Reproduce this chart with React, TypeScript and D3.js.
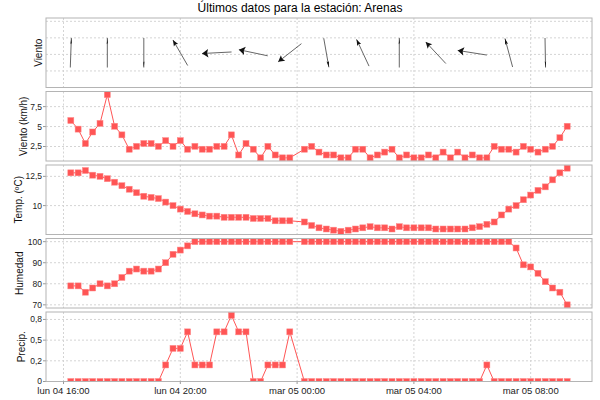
import * as d3 from "d3";

// readings every 15 min; the 00:00 reading is missing in the source
const day4Times = [
  "16:15", "16:30", "16:45", "17:00", "17:15", "17:30", "17:45", "18:00",
  "18:15", "18:30", "18:45", "19:00", "19:15", "19:30", "19:45", "20:00",
  "20:15", "20:30", "20:45", "21:00", "21:15", "21:30", "21:45", "22:00",
  "22:15", "22:30", "22:45", "23:00", "23:15", "23:30", "23:45",
];
const day5Times = [
  "00:15", "00:30", "00:45", "01:00", "01:15", "01:30", "01:45", "02:00",
  "02:15", "02:30", "02:45", "03:00", "03:15", "03:30", "03:45", "04:00",
  "04:15", "04:30", "04:45", "05:00", "05:15", "05:30", "05:45", "06:00",
  "06:15", "06:30", "06:45", "07:00", "07:15", "07:30", "07:45", "08:00",
  "08:15", "08:30", "08:45", "09:00", "09:15",
];

const windSpeed = [
  5.76, 4.68, 2.88, 4.32, 5.4, 9.0, 5.04, 3.96, 2.16, 2.52,
  2.88, 2.88, 2.52, 3.24, 2.52, 3.24, 2.16, 2.52, 2.16, 2.16,
  2.52, 2.52, 3.96, 1.44, 2.88, 2.16, 1.08, 2.52, 1.44, 1.08, 1.08,
  2.16, 2.52, 1.8, 1.44, 1.44, 1.08, 1.08, 2.16, 2.16, 1.08,
  1.44, 1.8, 2.16, 1.08, 1.44, 1.08, 1.08, 1.44, 1.08, 1.8,
  1.08, 1.8, 1.08, 1.44, 1.08, 1.08, 2.52, 2.16, 2.16, 1.8,
  2.52, 2.16, 1.8, 2.16, 2.52, 3.6, 5.04,
];
const temperature = [
  12.8, 12.8, 13.0, 12.6, 12.5, 12.3, 12.0, 11.7, 11.4, 11.1,
  10.8, 10.7, 10.6, 10.3, 10.0, 9.7, 9.5, 9.3, 9.2, 9.1,
  9.1, 9.0, 9.0, 9.0, 9.0, 8.9, 8.9, 8.9, 8.7, 8.7, 8.7,
  8.6, 8.3, 8.1, 8.0, 7.9, 7.8, 7.9, 8.0, 8.1, 8.2,
  8.1, 8.1, 8.0, 8.2, 8.1, 8.1, 8.1, 8.1, 8.0, 8.0,
  8.0, 8.0, 8.0, 8.1, 8.2, 8.4, 8.6, 9.2, 9.7, 10.0,
  10.5, 10.9, 11.3, 11.6, 12.2, 12.8, 13.2,
];
const humidity = [
  79, 79, 76, 78, 80, 79, 80, 83, 86, 87,
  86, 86, 87, 90, 94, 96, 98, 100, 100, 100,
  100, 100, 100, 100, 100, 100, 100, 100, 100, 100, 100,
  100, 100, 100, 100, 100, 100, 100, 100, 100, 100,
  100, 100, 100, 100, 100, 100, 100, 100, 100, 100,
  100, 100, 100, 100, 100, 100, 100, 100, 100, 97,
  89, 88, 85, 81, 78, 76, 70,
];
const precip = [
  0, 0, 0, 0, 0, 0, 0, 0, 0, 0,
  0, 0, 0, 0.2, 0.4, 0.4, 0.6, 0.2, 0.2, 0.2,
  0.6, 0.6, 0.8, 0.6, 0.6, 0, 0, 0.2, 0.2, 0.2, 0.6,
  0, 0, 0, 0, 0, 0, 0, 0, 0, 0,
  0, 0, 0, 0, 0, 0, 0, 0, 0, 0,
  0, 0, 0, 0, 0, 0.2, 0, 0, 0, 0,
  0, 0, 0, 0, 0, 0, 0,
];

// wind direction arrows (degrees, clockwise from north, direction the arrow points)
const arrowTimes = [
  "04 16:15", "04 17:30", "04 18:45", "04 20:00", "04 21:15", "04 22:30", "04 23:45",
  "05 01:00", "05 02:15", "05 03:30", "05 04:45", "05 06:00", "05 07:15", "05 08:30",
];
const arrowDirs = [2, 0, 180, 330, 267, 282, 232, 170, 335, 0, 317, 279, 345, 179];

const windTicks = [2.5, 5, 7.5];
const windTickLabels = ["2,5", "5", "7,5"];
const tempTicks = [10, 12.5];
const tempTickLabels = ["10", "12,5"];
const humTicks = [70, 80, 90, 100];
const humTickLabels = ["70", "80", "90", "100"];
const precipTicks = [0, 0.25, 0.5, 0.75];
const precipTickLabels = ["0", "0,2", "0,5", "0,8"];

const title = "Últimos datos para la estación: Arenas";

const esLocale = d3.timeFormatLocale({
  dateTime: "%A, %e de %B de %Y, %X",
  date: "%d/%m/%Y",
  time: "%H:%M:%S",
  periods: ["AM", "PM"],
  days: ["domingo", "lunes", "martes", "miércoles", "jueves", "viernes", "sábado"],
  shortDays: ["dom", "lun", "mar", "mié", "jue", "vie", "sáb"],
  months: ["enero", "febrero", "marzo", "abril", "mayo", "junio", "julio", "agosto", "septiembre", "octubre", "noviembre", "diciembre"],
  shortMonths: ["ene", "feb", "mar", "abr", "may", "jun", "jul", "ago", "sep", "oct", "nov", "dic"],
});

const parse = d3.timeParse("%Y-%m-%d %H:%M");
const FONT = "Liberation Sans, Arial, sans-serif";
const RED = "#ff5555";

export default function App() {
  const width = 600;
  const height = 400;
  const plotLeft = 46;
  const plotRight = 592;
  const firstTop = 18;
  const step = 73.5;
  const panelH = 69.5;

  const times = [
    ...day4Times.map((t) => parse(`2013-03-04 ${t}`) as Date),
    ...day5Times.map((t) => parse(`2013-03-05 ${t}`) as Date),
  ];
  const [t0, t1] = d3.extent(times) as [Date, Date];
  const pad = (t1.getTime() - t0.getTime()) * 0.05;

  const xScale = d3
    .scaleTime()
    .domain([new Date(t0.getTime() - pad), new Date(t1.getTime() + pad)])
    .range([plotLeft, plotRight]);
  const xTicks = xScale.ticks(d3.timeHour.every(4) as d3.TimeInterval);
  const fmt = esLocale.format("%a %d %H:%M");

  const autoDomain = (vals: number[], zeroBase = false): [number, number] => {
    const [lo, hi] = d3.extent(vals) as [number, number];
    const m = (hi - lo) * 0.05;
    return zeroBase ? [0, hi + hi * 0.05] : [lo - m, hi + m];
  };

  const panels = [
    { label: "Viento (km/h)", values: windSpeed, ticks: windTicks, tickLabels: windTickLabels, domain: autoDomain(windSpeed), labelX: 23 },
    { label: "Temp. (ºC)", values: temperature, ticks: tempTicks, tickLabels: tempTickLabels, domain: autoDomain(temperature), labelX: 18.5 },
    { label: "Humedad", values: humidity, ticks: humTicks, tickLabels: humTickLabels, domain: autoDomain(humidity), labelX: 19.5 },
    { label: "Precip.", values: precip, ticks: precipTicks, tickLabels: precipTickLabels, domain: autoDomain(precip, true), labelX: 21 },
  ];

  // top panel: wind direction vectors
  const arrowTop = firstTop;
  const arrowScale = d3.scaleLinear().domain([0, 4.2]).range([arrowTop + panelH, arrowTop]);
  const arrowGrid = [1, 2, 3, 4];
  const half = 14.75;

  const arrows = arrowTimes.map((s, i) => {
    const cx = xScale(parse(`2013-03-${s}`) as Date);
    const cy = arrowScale(2.1);
    const a = (arrowDirs[i] * Math.PI) / 180;
    const ux = Math.sin(a);
    const uy = -Math.cos(a);
    const tipX = cx + ux * half;
    const tipY = cy + uy * half;
    const tailX = cx - ux * half;
    const tailY = cy - uy * half;
    // heads get flatter the more vertical the vector is
    const hw = 0.6 + 3.7 * Math.abs(Math.sin(a));
    const bx = tipX - ux * 6.2;
    const by = tipY - uy * 6.2;
    const nx = tipX - ux * 5;
    const ny = tipY - uy * 5;
    const px = Math.cos(a);
    const py = Math.sin(a);
    const head = [
      [tipX, tipY],
      [bx + px * hw, by + py * hw],
      [nx, ny],
      [bx - px * hw, by - py * hw],
    ]
      .map((p) => p.join(","))
      .join(" ");
    return (
      <g key={i}>
        <line x1={tailX} y1={tailY} x2={tipX} y2={tipY} stroke="#666" strokeWidth={1} />
        <polygon points={head} fill="#111" />
      </g>
    );
  });

  const vGrid = (top: number, key: string) =>
    xTicks.map((t, i) => (
      <line
        key={key + i}
        x1={xScale(t)}
        x2={xScale(t)}
        y1={top}
        y2={top + panelH}
        stroke="#d4d4d4"
        strokeDasharray="2,2"
      />
    ));

  const lastBottom = firstTop + step * 4 + panelH;

  return (
    <div style={{ position: "absolute", left: 0, top: 0 }}>
      <svg width={width} height={height} style={{ display: "block", background: "#fff" }} fontFamily={FONT}>
        <text x={width / 2} y={12} textAnchor="middle" fontSize={12} fill="#000">
          {title}
        </text>

        {/* wind direction panel */}
        <g>
          <rect x={plotLeft} y={arrowTop} width={plotRight - plotLeft} height={panelH} fill="#fff" />
          {vGrid(arrowTop, "ag")}
          {arrowGrid.map((v, i) => (
            <line
              key={i}
              x1={plotLeft}
              x2={plotRight}
              y1={arrowScale(v)}
              y2={arrowScale(v)}
              stroke="#d4d4d4"
              strokeDasharray="2,2"
            />
          ))}
          {arrows}
          <rect x={plotLeft} y={arrowTop} width={plotRight - plotLeft} height={panelH} fill="none" stroke="#b4b4b4" />
          <text
            transform={`translate(38,${arrowTop + panelH / 2}) rotate(-90)`}
            textAnchor="middle"
            dy="0.35em"
            fontSize={10}
            fill="#111"
          >
            Viento
          </text>
        </g>

        {panels.map((p, pi) => {
          const top = firstTop + step * (pi + 1);
          const yScale = d3.scaleLinear().domain(p.domain).range([top + panelH, top]);
          const line = d3
            .line<number>()
            .x((_, i) => xScale(times[i]))
            .y((d) => yScale(d));
          const clipId = `clip-${pi}`;
          return (
            <g key={pi}>
              <defs>
                <clipPath id={clipId}>
                  <rect x={plotLeft} y={top} width={plotRight - plotLeft} height={panelH} />
                </clipPath>
              </defs>
              {vGrid(top, `g${pi}`)}
              {p.ticks.map((v, i) => (
                <g key={i}>
                  <line
                    x1={plotLeft}
                    x2={plotRight}
                    y1={yScale(v)}
                    y2={yScale(v)}
                    stroke="#d4d4d4"
                    strokeDasharray="2,2"
                  />
                  <line x1={plotLeft - 3} x2={plotLeft} y1={yScale(v)} y2={yScale(v)} stroke="#999" />
                  <text x={plotLeft - 4} y={yScale(v)} dy="0.35em" textAnchor="end" fontSize={8.5} fill="#222">
                    {p.tickLabels[i]}
                  </text>
                </g>
              ))}
              <g clipPath={`url(#${clipId})`}>
                <path d={line(p.values) ?? ""} fill="none" stroke={RED} strokeWidth={1} />
                {p.values.map((v, i) => (
                  <rect
                    key={i}
                    x={xScale(times[i]) - 3}
                    y={yScale(v) - 3}
                    width={6}
                    height={6}
                    fill={RED}
                    stroke="#ff8a8a"
                    strokeWidth={0.5}
                  />
                ))}
              </g>
              <rect x={plotLeft} y={top} width={plotRight - plotLeft} height={panelH} fill="none" stroke="#b4b4b4" />
              <text
                transform={`translate(${p.labelX},${top + panelH / 2}) rotate(-90)`}
                textAnchor="middle"
                dy="0.35em"
                fontSize={10}
                fill="#111"
              >
                {p.label}
              </text>
            </g>
          );
        })}

        {xTicks.map((t, i) => (
          <g key={i}>
            <line x1={xScale(t)} x2={xScale(t)} y1={lastBottom} y2={lastBottom + 2.5} stroke="#999" />
            <text x={xScale(t)} y={394} textAnchor="middle" fontSize={9.5} fill="#222">
              {fmt(t)}
            </text>
          </g>
        ))}
      </svg>
    </div>
  );
}
